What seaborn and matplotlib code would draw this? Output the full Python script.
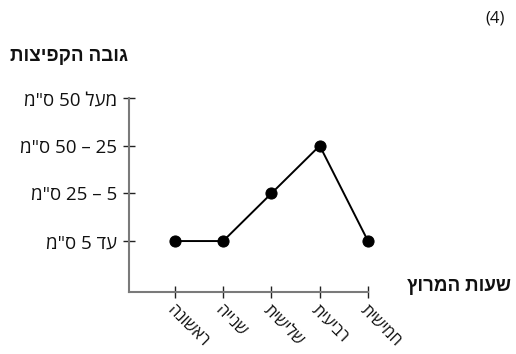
import matplotlib
matplotlib.use("Agg")
import matplotlib.pyplot as plt
import pandas as pd
import seaborn as sns

# Hebrew strings are stored in visual (left-to-right) order, matplotlib has no bidi
hours = ["הנושאר", "היינש", "תישילש", "תיעיבר", "תישימח"]  # ראשונה .. חמישית
height_levels = ['מ"ס 5 דע', 'מ"ס 25 – 5', 'מ"ס 50 – 25', 'מ"ס 50 לעמ']
height_level = [0, 0, 1, 2, 0]

title_y = "תוציפקה הבוג"   # גובה הקפיצות
title_x = "ץורמה תועש"     # שעות המרוץ
panel_tag = "(4)"

sns.set_style("white")
plt.rcParams['font.family'] = ['Open Sans', 'Liberation Sans', 'DejaVu Sans']
plt.rcParams['text.color'] = '#111111'
plt.rcParams['xtick.color'] = '#111111'
plt.rcParams['ytick.color'] = '#111111'

df = pd.DataFrame({"x": range(len(hours)), "y": height_level})

fig = plt.figure(figsize=(5.16, 3.54), dpi=100)
ax = fig.add_axes([0.25, 0.175, 0.4632, 0.548])

sns.lineplot(data=df, x="x", y="y", ax=ax, color="black", lw=1.4,
             marker="o", markersize=8, markeredgecolor="black", clip_on=False)

ax.set_xlim(-0.95, len(hours) - 1)
ax.set_ylim(-1.07, len(height_levels) - 1)
ax.set_xticks(range(len(hours)))
ax.set_xticklabels(hours, rotation=-45, ha="left", va="top",
                   rotation_mode="anchor", fontsize=12)
ax.set_yticks(range(len(height_levels)))
ax.set_yticklabels(height_levels, fontsize=13.5)
ax.set_xlabel("")
ax.set_ylabel("")

for side in ["top", "right"]:
    ax.spines[side].set_visible(False)
for side in ["left", "bottom"]:
    ax.spines[side].set_color("#7a7a7a")
    ax.spines[side].set_linewidth(1.5)
ax.tick_params(axis="both", bottom=True, left=True, direction="inout",
               length=9, width=1, color="#222222", pad=4)
ax.tick_params(axis="x", pad=3)

fig.text(0.978, 0.948, panel_tag, ha="right", va="center", fontsize=12)
fig.text(0.02, 0.843, title_y, ha="left", va="center", fontsize=13.5,
         fontweight="bold")
fig.text(0.99, 0.193, title_x, ha="right", va="center", fontsize=13.5,
         fontweight="bold")

fig.savefig("out.png", dpi=100)
